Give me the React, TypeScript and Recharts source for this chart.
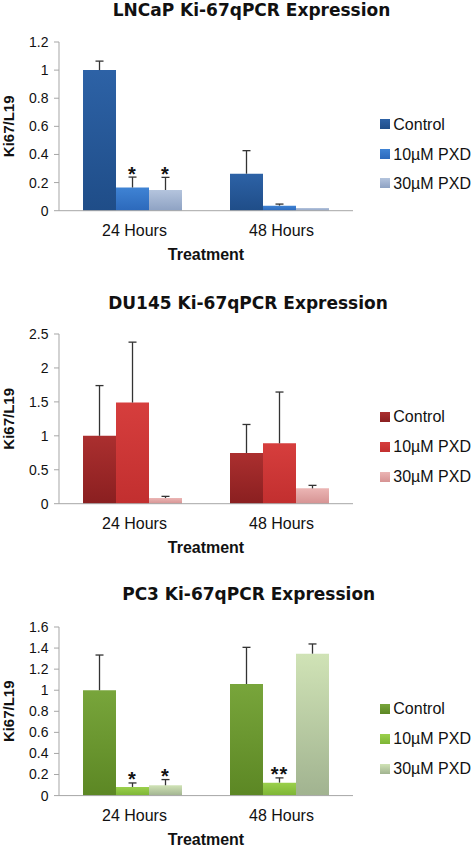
import React from 'react';
import { BarChart, Bar, XAxis, YAxis, LabelList } from 'recharts';

const CATEGORIES = ['24 Hours', '48 Hours'];
const SERIES_NAMES = ['Control', '10µM PXD', '30µM PXD'];

const LNCAP_CONTROL = [1.0, 0.263];
const LNCAP_10 = [0.165, 0.036];
const LNCAP_30 = [0.147, 0.019];
const LNCAP_CONTROL_ERR = [0.064, 0.164];
const LNCAP_10_ERR = [0.074, 0.011];
const LNCAP_30_ERR = [0.09, 0];
const LNCAP_10_SIG = ['*', ''];
const LNCAP_30_SIG = ['*', ''];
const LNCAP_TICKS = [0, 0.2, 0.4, 0.6, 0.8, 1, 1.2];

const DU145_CONTROL = [1.0, 0.747];
const DU145_10 = [1.49, 0.889];
const DU145_30 = [0.083, 0.226];
const DU145_CONTROL_ERR = [0.74, 0.42];
const DU145_10_ERR = [0.89, 0.756];
const DU145_30_ERR = [0.025, 0.044];
const DU145_TICKS = [0, 0.5, 1, 1.5, 2, 2.5];

const PC3_CONTROL = [1.0, 1.059];
const PC3_10 = [0.082, 0.123];
const PC3_30 = [0.098, 1.347];
const PC3_CONTROL_ERR = [0.334, 0.348];
const PC3_10_ERR = [0.038, 0.045];
const PC3_30_ERR = [0.054, 0.092];
const PC3_10_SIG = ['*', '**'];
const PC3_30_SIG = ['*', ''];
const PC3_TICKS = [0, 0.2, 0.4, 0.6, 0.8, 1, 1.2, 1.4, 1.6];

const SANS = '"Liberation Sans", Arial, Helvetica, sans-serif';
const TITLE_FONT = '"DejaVu Sans", sans-serif';

type Panel = {
  id: string;
  title: string;
  titleCenterX: number;
  titleTop: number;
  plotTop: number;
  plotHeight: number;
  ticks: number[];
  values: number[][];
  errs: number[][];
  sigs: string[][];
  colors: [string, string][];
  legendY: number[];
};

const PANELS: Panel[] = [
  {
    id: 'lncap',
    title: 'LNCaP Ki-67qPCR Expression',
    titleCenterX: 251.5,
    titleTop: -0.3,
    plotTop: 41.6,
    plotHeight: 168.7,
    ticks: LNCAP_TICKS,
    values: [LNCAP_CONTROL, LNCAP_10, LNCAP_30],
    errs: [LNCAP_CONTROL_ERR, LNCAP_10_ERR, LNCAP_30_ERR],
    sigs: [['', ''], LNCAP_10_SIG, LNCAP_30_SIG],
    colors: [
      ['#2d62a6', '#1f4d88'],
      ['#3f83d4', '#2c69bb'],
      ['#b4c4dd', '#8ea2c3'],
    ],
    legendY: [124.3, 154.3, 183.3],
  },
  {
    id: 'du145',
    title: 'DU145 Ki-67qPCR Expression',
    titleCenterX: 248,
    titleTop: 293,
    plotTop: 334.3,
    plotHeight: 169.7,
    ticks: DU145_TICKS,
    values: [DU145_CONTROL, DU145_10, DU145_30],
    errs: [DU145_CONTROL_ERR, DU145_10_ERR, DU145_30_ERR],
    sigs: [['', ''], ['', ''], ['', '']],
    colors: [
      ['#ab2f2f', '#8a1f20'],
      ['#d63e3d', '#c22f2f'],
      ['#ebb5b4', '#d69393'],
    ],
    legendY: [416.7, 447, 477],
  },
  {
    id: 'pc3',
    title: 'PC3 Ki-67qPCR Expression',
    titleCenterX: 248.7,
    titleTop: 583.6,
    plotTop: 626.7,
    plotHeight: 168.6,
    ticks: PC3_TICKS,
    values: [PC3_CONTROL, PC3_10, PC3_30],
    errs: [PC3_CONTROL_ERR, PC3_10_ERR, PC3_30_ERR],
    sigs: [['', ''], PC3_10_SIG, PC3_30_SIG],
    colors: [
      ['#78a53b', '#5c8724'],
      ['#9bd04c', '#7db535'],
      ['#d0e3b6', '#a1b390'],
    ],
    legendY: [709, 739, 769],
  },
];

const ErrorMark = (props: any) => {
  const vb = props.viewBox || props;
  const x = Number(vb.x);
  const y = Number(vb.y);
  const w = Number(vb.width);
  const h = Number(vb.height);
  const parts = String(props.value).split('|');
  const v = Number(parts[0]);
  const e = Number(parts[1]);
  const sig = parts[2] || '';
  if (!isFinite(x) || !isFinite(y) || !(v > 0)) return null;
  const k = h / v;
  const cx = x + w / 2;
  const top = y - e * k;
  return (
    <g>
      {e > 0 && (
        <g stroke="#333" strokeWidth={1.3}>
          <line x1={cx} y1={y} x2={cx} y2={top} />
          <line x1={cx - 4} y1={top} x2={cx + 4} y2={top} />
        </g>
      )}
      {sig && (
        <text
          x={cx}
          y={top + 3.5}
          textAnchor="middle"
          fontFamily={SANS}
          fontWeight={700}
          fontSize={20}
          fill="#111"
          letterSpacing={1}
        >
          {sig}
        </text>
      )}
    </g>
  );
};

const ChartPanel = ({ p }: { p: Panel }) => {
  const marginTop = 10;
  const xHeight = 55;
  const height = marginTop + p.plotHeight + xHeight + 5;
  const rows = CATEGORIES.map((cat, i) => {
    const r: any = { cat };
    SERIES_NAMES.forEach((_, s) => {
      r['s' + s] = p.values[s][i];
      r['m' + s] = `${p.values[s][i]}|${p.errs[s][i]}|${p.sigs[s][i]}`;
    });
    return r;
  });
  const max = p.ticks[p.ticks.length - 1];
  return (
    <div style={{ position: 'absolute', left: 0, top: p.plotTop - marginTop }}>
      <BarChart
        width={472}
        height={height}
        data={rows}
        margin={{ top: marginTop, right: 119, bottom: 5, left: 0 }}
        barGap={0}
        barCategoryGap={24}
      >
        <defs>
          {p.colors.map((c, s) => (
            <linearGradient key={s} id={`${p.id}-g${s}`} x1="0" y1="0" x2="0" y2="1">
              <stop offset="0%" stopColor={c[0]} />
              <stop offset="100%" stopColor={c[1]} />
            </linearGradient>
          ))}
        </defs>
        <XAxis
          xAxisId="t"
          type="number"
          domain={[0, 2]}
          ticks={[0, 1, 2]}
          tick={false}
          axisLine={false}
          tickLine={{ stroke: '#a6a6a6' }}
          tickSize={5}
          height={0}
        />
        <XAxis
          dataKey="cat"
          height={xHeight}
          interval={0}
          tickLine={false}
          tickSize={0}
          tickMargin={14}
          axisLine={{ stroke: '#a6a6a6' }}
          tick={{ fontSize: 16, fill: '#111', fontFamily: SANS, dx: 2 }}
          label={{
            value: 'Treatment',
            position: 'insideBottom',
            offset: 6,
            style: { fontFamily: SANS, fontWeight: 700, fontSize: 16, fill: '#111' },
          }}
        />
        <YAxis
          width={59}
          domain={[0, max]}
          ticks={p.ticks}
          interval={0}
          tickSize={5}
          tickMargin={5.5}
          axisLine={{ stroke: '#a6a6a6' }}
          tickLine={{ stroke: '#a6a6a6' }}
          tick={{ fontSize: 14, fill: '#111', fontFamily: SANS }}
          label={{
            value: 'Ki67/L19',
            angle: -90,
            position: 'insideLeft',
            offset: 8.3,
            style: { textAnchor: 'middle', fontFamily: SANS, fontWeight: 700, fontSize: 15, fill: '#111' },
          }}
        />
        {SERIES_NAMES.map((name, s) => (
          <Bar
            key={name}
            dataKey={'s' + s}
            name={name}
            fill={`url(#${p.id}-g${s})`}
            isAnimationActive={false}
          >
            <LabelList dataKey={'m' + s} content={ErrorMark} />
          </Bar>
        ))}
      </BarChart>
    </div>
  );
};

const LegendBlock = ({ p }: { p: Panel }) => (
  <>
    {SERIES_NAMES.map((name, s) => (
      <div key={name}>
        <div
          style={{
            position: 'absolute',
            left: 380,
            top: p.legendY[s] - 5,
            width: 10,
            height: 10,
            background: `linear-gradient(${p.colors[s][0]}, ${p.colors[s][1]})`,
          }}
        />
        <div
          style={{
            position: 'absolute',
            left: 393.3,
            top: p.legendY[s] - 7.8,
            fontFamily: SANS,
            fontSize: 16,
            lineHeight: '16px',
            color: '#111',
            whiteSpace: 'nowrap',
          }}
        >
          {name}
        </div>
      </div>
    ))}
  </>
);

export default function App() {
  return (
    <div
      style={{
        position: 'absolute',
        left: 0,
        top: 0,
        width: 472,
        height: 846,
        background: '#fff',
        overflow: 'hidden',
      }}
    >
      {PANELS.map((p) => (
        <React.Fragment key={p.id}>
          <div
            style={{
              position: 'absolute',
              left: p.titleCenterX - 200,
              width: 400,
              top: p.titleTop,
              textAlign: 'center',
              fontFamily: TITLE_FONT,
              fontWeight: 700,
              fontSize: 17,
              lineHeight: '20px',
              color: '#111',
              whiteSpace: 'nowrap',
            }}
          >
            {p.title}
          </div>
          <ChartPanel p={p} />
          <LegendBlock p={p} />
        </React.Fragment>
      ))}
    </div>
  );
}
